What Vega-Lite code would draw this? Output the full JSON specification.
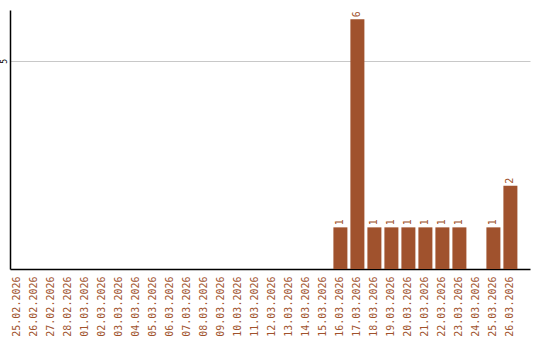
{
  "$schema": "https://vega.github.io/schema/vega-lite/v6.json",
  "autosize": "none",
  "width": 520,
  "height": 259,
  "padding": {"left": 10, "top": 10, "right": 10, "bottom": 71},
  "background": "white",
  "config": {"view": {"stroke": null}},
  "data": {"values": [
    {"d": "25.02.2026", "v": 0}, {"d": "26.02.2026", "v": 0}, {"d": "27.02.2026", "v": 0}, {"d": "28.02.2026", "v": 0},
    {"d": "01.03.2026", "v": 0}, {"d": "02.03.2026", "v": 0}, {"d": "03.03.2026", "v": 0}, {"d": "04.03.2026", "v": 0},
    {"d": "05.03.2026", "v": 0}, {"d": "06.03.2026", "v": 0}, {"d": "07.03.2026", "v": 0}, {"d": "08.03.2026", "v": 0},
    {"d": "09.03.2026", "v": 0}, {"d": "10.03.2026", "v": 0}, {"d": "11.03.2026", "v": 0}, {"d": "12.03.2026", "v": 0},
    {"d": "13.03.2026", "v": 0}, {"d": "14.03.2026", "v": 0}, {"d": "15.03.2026", "v": 0}, {"d": "16.03.2026", "v": 1},
    {"d": "17.03.2026", "v": 6}, {"d": "18.03.2026", "v": 1}, {"d": "19.03.2026", "v": 1}, {"d": "20.03.2026", "v": 1},
    {"d": "21.03.2026", "v": 1}, {"d": "22.03.2026", "v": 1}, {"d": "23.03.2026", "v": 1}, {"d": "24.03.2026", "v": 0},
    {"d": "25.03.2026", "v": 1}, {"d": "26.03.2026", "v": 2}
  ]},
  "encoding": {
    "x": {"field": "d", "type": "ordinal", "sort": null,
      "scale": {"paddingInner": 0.1765, "paddingOuter": 0.382, "align": 0.03},
      "axis": {"title": null, "labelAngle": 270, "labelFont": "DejaVu Sans Mono", "labelFontSize": 10,
        "labelColor": "#a0522d", "ticks": false, "labelPadding": 7, "domainColor": "#000", "domainWidth": 1.5,
        "labelAlign": "right", "labelBaseline": "middle"}},
    "y": {"field": "v", "type": "quantitative",
      "scale": {"domain": [0, 6.22], "nice": false},
      "axis": {"title": null, "values": [5], "labelAngle": 270, "labelFontSize": 8, "labelFont": "DejaVu Sans Mono",
        "labelColor": "#000", "ticks": false, "labelPadding": 2, "labelAlign": "center", "labelBaseline": "bottom",
        "grid": true, "gridColor": "#c8c8c8", "domainColor": "#000", "domainWidth": 1.5}}
  },
  "layer": [
    {"mark": {"type": "bar", "color": "#a0522d"}},
    {"transform": [{"filter": "datum.v > 0"}],
     "mark": {"type": "text", "angle": 270, "align": "left", "baseline": "middle", "dx": 2,
       "font": "DejaVu Sans Mono", "fontSize": 10, "color": "#a0522d"},
     "encoding": {"text": {"field": "v", "type": "quantitative"}}}
  ]
}
